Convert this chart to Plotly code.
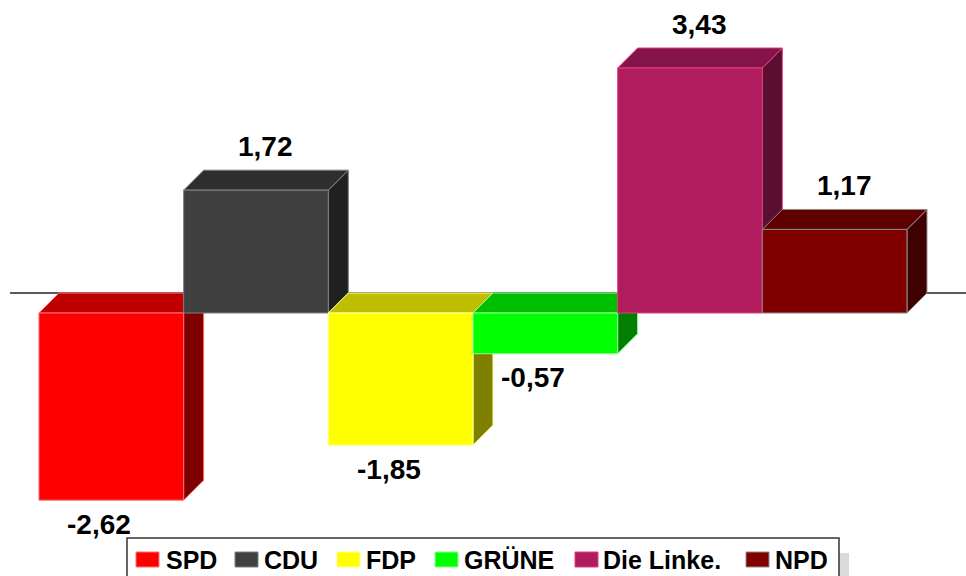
import plotly.graph_objects as go

# ---- data ----
parties = ["SPD", "CDU", "FDP", "GRÜNE", "Die Linke.", "NPD"]
values = [-2.62, 1.72, -1.85, -0.57, 3.43, 1.17]
labels = ["-2,62", "1,72", "-1,85", "-0,57", "3,43", "1,17"]

# ---- styles ----
front_colors = ["#FF0000", "#404040", "#FFFF00", "#00FF00", "#B01C5E", "#800000"]
top_colors = ["#BF0000", "#2E2E2E", "#BFBF00", "#00BF00", "#84154A", "#600000"]
side_colors = ["#7F0000", "#202020", "#7F7F00", "#007F00", "#5A0E32", "#400000"]
edge_colors = ["#FF7070", "#808080", "#FFFF90", "#90FF90", "#E0407A", "#8C8C8C"]

W, H = 966, 576
PX_PER_X = 144.67      # px per category
X0_PX = 111.3          # px of category 0 centre
PX_PER_Y = 71.43       # px per unit
Y0_PX = 313.0          # px of zero line
DEPTH_PX = 20.0

dx = DEPTH_PX / PX_PER_X
dy = DEPTH_PX / PX_PER_Y
xr = [-X0_PX / PX_PER_X, (W - X0_PX) / PX_PER_X]
yr = [-(H - Y0_PX) / PX_PER_Y, Y0_PX / PX_PER_Y]

fig = go.Figure()

# back zero line
fig.add_trace(go.Scatter(x=[(10 - X0_PX) / PX_PER_X, xr[1]], y=[dy, dy], mode="lines",
                         line=dict(color="#5A5A5A", width=2), hoverinfo="skip", showlegend=False))


def poly(xs, ys, fill, edge):
    fig.add_trace(go.Scatter(x=xs + [xs[0]], y=ys + [ys[0]], mode="lines", fill="toself",
                             fillcolor=fill, line=dict(color=edge, width=1),
                             hoverinfo="skip", showlegend=False))


for i, v in enumerate(values):
    x0, x1 = i - 0.5, i + 0.5
    lo, hi = min(0, v), max(0, v)
    # side face
    poly([x1, x1, x1 + dx, x1 + dx], [lo, hi, hi + dy, lo + dy], side_colors[i], edge_colors[i])
    # top face
    poly([x0, x1, x1 + dx, x0 + dx], [hi, hi, hi + dy, hi + dy], top_colors[i], edge_colors[i])
    # front face
    poly([x0, x1, x1, x0], [lo, lo, hi, hi], front_colors[i], edge_colors[i])

FONT = "Liberation Sans, Arial, sans-serif"
annotations = []
for i, v in enumerate(values):
    if v >= 0:
        annotations.append(dict(x=i + dx / 2, y=v + dy, text="<b>" + labels[i] + "</b>",
                                showarrow=False, yanchor="middle", yshift=24,
                                font=dict(size=28, color="black", family=FONT)))
    else:
        annotations.append(dict(x=i, y=v, text="<b>" + labels[i] + "</b>", showarrow=False,
                                yanchor="middle", yshift=-24, xshift=-12,
                                font=dict(size=28, color="black", family=FONT)))

# ---- legend (custom) ----
leg_sq_x = [136, 235, 337, 435, 575, 746]
leg_txt_x = [164, 262, 364, 462, 601, 773]
shapes = []


def px2paper(px, py):
    return px / W, 1 - py / H


# shadow
sx0, sy0 = px2paper(839, 553)
sx1, sy1 = px2paper(849, 590)
shapes.append(dict(type="rect", xref="paper", yref="paper", x0=sx0, x1=sx1, y0=sy1, y1=sy0,
                   fillcolor="#DADADA", line=dict(width=0)))
bx0, by0 = px2paper(127, 538)
bx1, by1 = px2paper(839, 590)
shapes.append(dict(type="rect", xref="paper", yref="paper", x0=bx0, x1=bx1, y0=by1, y1=by0,
                   fillcolor="white", line=dict(color="#333333", width=1.5)))
for i, name in enumerate(parties):
    qx0, qy0 = px2paper(leg_sq_x[i], 552)
    qx1, qy1 = px2paper(leg_sq_x[i] + 23, 567)
    shapes.append(dict(type="rect", xref="paper", yref="paper", x0=qx0, x1=qx1, y0=qy1, y1=qy0,
                       fillcolor=front_colors[i], line=dict(color=edge_colors[i], width=1)))
    tx, ty = px2paper(leg_txt_x[i], 559.5)
    annotations.append(dict(xref="paper", yref="paper", x=tx, y=ty, text="<b>" + name + "</b>",
                            showarrow=False, xanchor="left", yanchor="middle",
                            font=dict(size=25, color="black", family=FONT)))

fig.update_layout(
    width=W, height=H, margin=dict(l=0, r=0, t=0, b=0),
    paper_bgcolor="white", plot_bgcolor="white", showlegend=False,
    xaxis=dict(range=xr, visible=False, fixedrange=True),
    yaxis=dict(range=yr, visible=False, fixedrange=True),
    annotations=annotations, shapes=shapes,
)

fig.write_html("out.html", config={"displayModeBar": False},
               post_script="document.body.style.margin='0';document.body.style.overflow='hidden';")
